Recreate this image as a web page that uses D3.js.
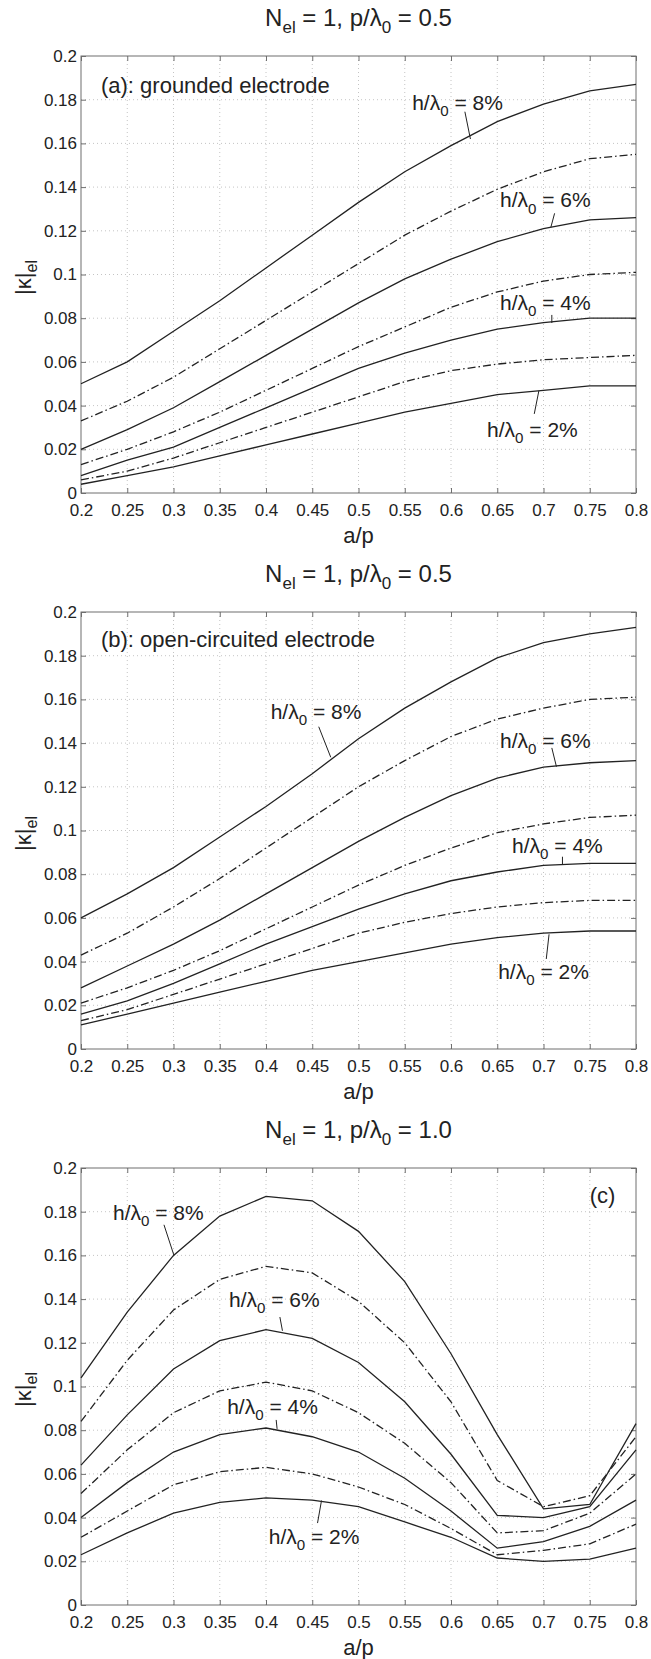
<!DOCTYPE html>
<html>
<head>
<meta charset="utf-8">
<script src="https://cdnjs.cloudflare.com/ajax/libs/d3/7.8.5/d3.min.js"></script>
<style>
  body { margin: 0; background: #fff; }
  svg { font-family: "Liberation Sans", Arial, Helvetica, sans-serif; }
  .grid line { stroke: #b5b5b5; stroke-width: 0.8; stroke-dasharray: 1,3; }
  .axis path { display: none; }
  .axis line { stroke: #6f6f6f; }
  .axis text { fill: #222; font-size: 17px; }
</style>
</head>
<body>
<svg id="fig" width="651" height="1659"></svg>
<script>
// a/p values and tick labels
const aOverP = [0.2, 0.25, 0.3, 0.35, 0.4, 0.45, 0.5, 0.55, 0.6, 0.65, 0.7, 0.75, 0.8];
const xTicks = [0.2, 0.25, 0.3, 0.35, 0.4, 0.45, 0.5, 0.55, 0.6, 0.65, 0.7, 0.75, 0.8];
const yTicks = [0, 0.02, 0.04, 0.06, 0.08, 0.1, 0.12, 0.14, 0.16, 0.18, 0.2];
const heights = ["8%", "7%", "6%", "5%", "4%", "3%", "2%"];

// (a) grounded electrode, p/lambda0 = 0.5
const a8 = [0.050, 0.060, 0.074, 0.088, 0.103, 0.118, 0.133, 0.147, 0.159, 0.170, 0.178, 0.184, 0.187];
const a7 = [0.033, 0.042, 0.053, 0.066, 0.079, 0.092, 0.105, 0.118, 0.129, 0.139, 0.147, 0.153, 0.155];
const a6 = [0.020, 0.029, 0.039, 0.051, 0.063, 0.075, 0.087, 0.098, 0.107, 0.115, 0.121, 0.125, 0.126];
const a5 = [0.013, 0.020, 0.028, 0.037, 0.047, 0.057, 0.067, 0.076, 0.085, 0.092, 0.097, 0.100, 0.101];
const a4 = [0.008, 0.015, 0.021, 0.030, 0.039, 0.048, 0.057, 0.064, 0.070, 0.075, 0.078, 0.080, 0.080];
const a3 = [0.006, 0.010, 0.016, 0.023, 0.030, 0.037, 0.044, 0.051, 0.056, 0.059, 0.061, 0.062, 0.063];
const a2 = [0.004, 0.008, 0.012, 0.017, 0.022, 0.027, 0.032, 0.037, 0.041, 0.045, 0.047, 0.049, 0.049];

// (b) open-circuited electrode, p/lambda0 = 0.5
const b8 = [0.060, 0.071, 0.083, 0.097, 0.111, 0.126, 0.142, 0.156, 0.168, 0.179, 0.186, 0.190, 0.193];
const b7 = [0.043, 0.053, 0.065, 0.078, 0.092, 0.106, 0.120, 0.132, 0.143, 0.151, 0.156, 0.160, 0.161];
const b6 = [0.028, 0.038, 0.048, 0.059, 0.071, 0.083, 0.095, 0.106, 0.116, 0.124, 0.129, 0.131, 0.132];
const b5 = [0.021, 0.028, 0.036, 0.045, 0.055, 0.065, 0.075, 0.084, 0.092, 0.099, 0.103, 0.106, 0.107];
const b4 = [0.016, 0.022, 0.030, 0.039, 0.048, 0.056, 0.064, 0.071, 0.077, 0.081, 0.084, 0.085, 0.085];
const b3 = [0.013, 0.018, 0.025, 0.032, 0.039, 0.046, 0.053, 0.058, 0.062, 0.065, 0.067, 0.068, 0.068];
const b2 = [0.011, 0.016, 0.021, 0.026, 0.031, 0.036, 0.040, 0.044, 0.048, 0.051, 0.053, 0.054, 0.054];

// (c) p/lambda0 = 1.0
const c8 = [0.104, 0.134, 0.160, 0.178, 0.187, 0.185, 0.171, 0.148, 0.115, 0.078, 0.044, 0.046, 0.083];
const c7 = [0.084, 0.112, 0.135, 0.149, 0.155, 0.152, 0.139, 0.120, 0.093, 0.057, 0.045, 0.050, 0.077];
const c6 = [0.064, 0.087, 0.108, 0.121, 0.126, 0.122, 0.111, 0.093, 0.069, 0.041, 0.040, 0.045, 0.071];
const c5 = [0.051, 0.071, 0.088, 0.098, 0.102, 0.098, 0.088, 0.074, 0.056, 0.033, 0.034, 0.042, 0.060];
const c4 = [0.040, 0.056, 0.070, 0.078, 0.081, 0.077, 0.070, 0.058, 0.043, 0.026, 0.029, 0.036, 0.048];
const c3 = [0.031, 0.043, 0.055, 0.061, 0.063, 0.060, 0.054, 0.046, 0.035, 0.023, 0.025, 0.028, 0.037];
const c2 = [0.023, 0.033, 0.042, 0.047, 0.049, 0.048, 0.045, 0.038, 0.031, 0.0215, 0.020, 0.021, 0.026];

const svg = d3.select("#fig");
const left = 81, right = 636, plotH = 437;

// "h/λ0 = 8%" style text with a subscript
function subText(g, x, y, main, sub, rest, size) {
    let t = g.append("text").attr("x", x).attr("y", y)
        .attr("font-size", size).attr("fill", "#222");
    t.append("tspan").text(main);
    t.append("tspan").attr("font-size", size * 0.72).attr("dy", size * 0.3).text(sub);
    t.append("tspan").attr("dy", -size * 0.3).text(rest);
    return t;
}

function drawPanel(top, series, pval, note, labels) {
    let bottom = top + plotH;
    let x = d3.scaleLinear().domain([0.2, 0.8]).range([left, right]);
    let y = d3.scaleLinear().domain([0, 0.2]).range([bottom, top]);
    let g = svg.append("g");

    // dotted grid
    let grid = g.append("g").attr("class", "grid");
    grid.selectAll("line.v").data(xTicks.slice(1, -1)).enter().append("line")
        .attr("x1", d => x(d)).attr("x2", d => x(d)).attr("y1", top).attr("y2", bottom);
    grid.selectAll("line.h").data(yTicks.slice(1, -1)).enter().append("line")
        .attr("x1", left).attr("x2", right).attr("y1", d => y(d)).attr("y2", d => y(d));

    // axes, MATLAB style ticks pointing inwards
    g.append("g").attr("class", "axis").attr("transform", `translate(0,${bottom})`)
        .call(d3.axisBottom(x).tickValues(xTicks).tickSizeInner(-5).tickSizeOuter(0)
            .tickPadding(7).tickFormat(d => String(d)))
        .selectAll("text").attr("dy", "0.95em");
    g.append("g").attr("class", "axis").attr("transform", `translate(0,${top})`)
        .call(d3.axisTop(x).tickValues(xTicks).tickSizeInner(-5).tickSizeOuter(0).tickFormat(""));
    g.append("g").attr("class", "axis").attr("transform", `translate(${left},0)`)
        .call(d3.axisLeft(y).tickValues(yTicks).tickSizeInner(-5).tickSizeOuter(0)
            .tickPadding(4).tickFormat(d => String(d)));
    g.append("g").attr("class", "axis").attr("transform", `translate(${right},0)`)
        .call(d3.axisRight(y).tickValues(yTicks).tickSizeInner(-5).tickSizeOuter(0).tickFormat(""));

    g.append("rect").attr("x", left).attr("y", top).attr("width", right - left).attr("height", plotH)
        .attr("fill", "none").attr("stroke", "#6f6f6f").attr("stroke-width", 1);

    // curves
    let line = d3.line().x((d, i) => x(aOverP[i])).y(d => y(d));
    g.selectAll("path.curve").data(series).enter().append("path")
        .attr("class", "curve")
        .attr("d", d => line(d))
        .attr("fill", "none")
        .attr("stroke", "#222")
        .attr("stroke-width", 1.3)
        .attr("stroke-dasharray", (d, i) => i % 2 ? "8,3,1.5,3" : null);

    // title
    let tt = g.append("text").attr("x", (left + right) / 2).attr("y", top - 30)
        .attr("text-anchor", "middle").attr("font-size", 24).attr("fill", "#222");
    tt.append("tspan").text("N");
    tt.append("tspan").attr("font-size", 17).attr("dy", 7).text("el");
    tt.append("tspan").attr("dy", -7).text(" = 1, p/λ");
    tt.append("tspan").attr("font-size", 17).attr("dy", 7).text("0");
    tt.append("tspan").attr("dy", -7).text(" = " + pval);

    // axis labels
    g.append("text").attr("x", (left + right) / 2).attr("y", bottom + 50)
        .attr("text-anchor", "middle").attr("font-size", 22).attr("fill", "#222").text("a/p");
    let yl = g.append("text").attr("transform", `translate(31,${(top + bottom) / 2 + 3}) rotate(-90)`)
        .attr("text-anchor", "middle").attr("font-size", 22).attr("fill", "#222");
    yl.append("tspan").text("|κ|");
    yl.append("tspan").attr("font-size", 16).attr("dy", 6).text("el");

    // panel note
    g.append("text").attr("x", x(note[0])).attr("y", y(note[1]) + 8)
        .attr("font-size", 22).attr("fill", "#222").text(note[2]);

    // curve labels with pointer lines
    labels.forEach(l => {
        subText(g, x(l.tx), y(l.ty) + 7, "h/λ", "0", " = " + l.h, 21);
        g.append("line")
            .attr("x1", x(l.p[0])).attr("y1", y(l.p[1]))
            .attr("x2", x(l.p[2])).attr("y2", y(l.p[3]))
            .attr("stroke", "#222").attr("stroke-width", 1);
    });
}

drawPanel(56, [a8, a7, a6, a5, a4, a3, a2], "0.5", [0.2216, 0.1867, "(a): grounded electrode"], [
    {h: heights[0], tx: 0.558, ty: 0.1785, p: [0.615, 0.1745, 0.621, 0.162]},
    {h: heights[2], tx: 0.653, ty: 0.134, p: [0.712, 0.128, 0.708, 0.1217]},
    {h: heights[4], tx: 0.653, ty: 0.087, p: [0.709, 0.0815, 0.709, 0.0778]},
    {h: heights[6], tx: 0.639, ty: 0.0288, p: [0.695, 0.0468, 0.690, 0.0362]}
]);

drawPanel(612, [b8, b7, b6, b5, b4, b3, b2], "0.5", [0.2216, 0.1876, "(b): open-circuited electrode"], [
    {h: heights[0], tx: 0.405, ty: 0.1544, p: [0.457, 0.1475, 0.470, 0.1335]},
    {h: heights[2], tx: 0.653, ty: 0.141, p: [0.709, 0.1378, 0.714, 0.1292]},
    {h: heights[4], tx: 0.666, ty: 0.0929, p: [0.7205, 0.088, 0.7205, 0.0845]},
    {h: heights[6], tx: 0.651, ty: 0.0354, p: [0.706, 0.0525, 0.703, 0.0412]}
]);

drawPanel(1168, [c8, c7, c6, c5, c4, c3, c2], "1.0", [0.750, 0.1876, "(c)"], [
    {h: heights[0], tx: 0.2346, ty: 0.1795, p: [0.2897, 0.174, 0.3005, 0.160]},
    {h: heights[2], tx: 0.36, ty: 0.1396, p: [0.415, 0.1318, 0.4178, 0.1255]},
    {h: heights[4], tx: 0.358, ty: 0.0907, p: [0.411, 0.0847, 0.412, 0.0806]},
    {h: heights[6], tx: 0.403, ty: 0.0312, p: [0.4557, 0.0375, 0.46, 0.0478]}
]);
</script>
</body>
</html>
